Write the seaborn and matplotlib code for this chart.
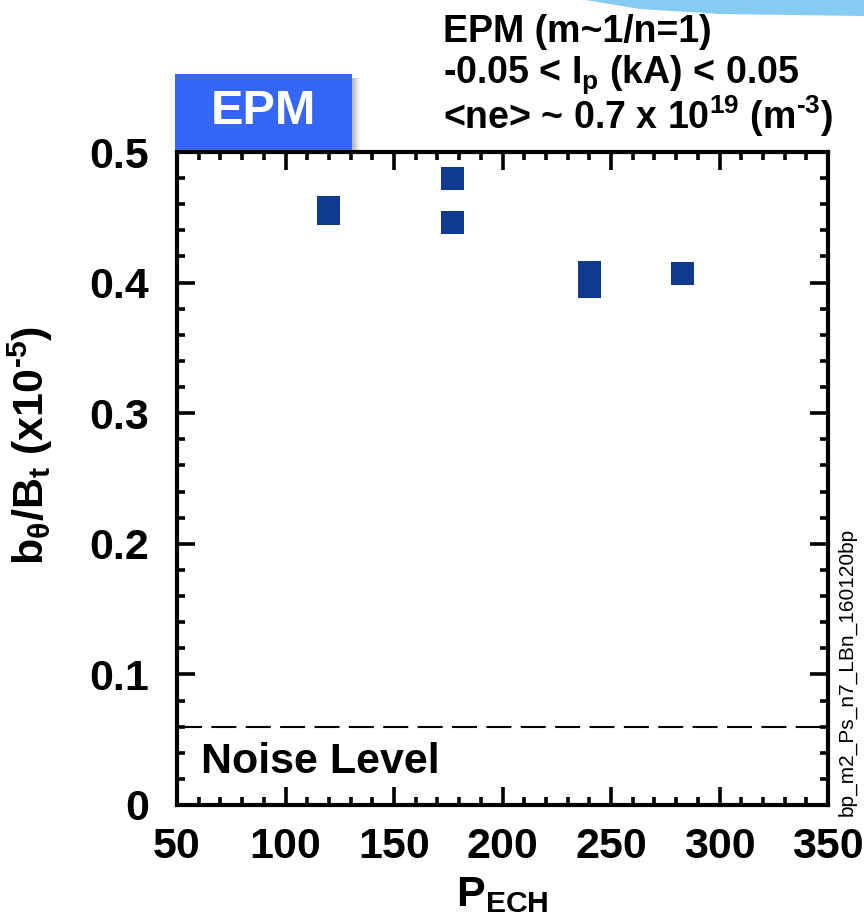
import numpy as np
import pandas as pd
import matplotlib
matplotlib.use("Agg")
import matplotlib.pyplot as plt
import seaborn as sns
from matplotlib.patches import Rectangle, Polygon
from matplotlib.ticker import MultipleLocator

# ---- data ----
p_ech = [120, 120, 177, 177, 240, 240, 283]
b_ratio = [0.4575, 0.453, 0.480, 0.446, 0.408, 0.397, 0.407]
noise_level = 0.06
x_ticks = [50, 100, 150, 200, 250, 300, 350]
y_ticks = [0, 0.1, 0.2, 0.3, 0.4, 0.5]
y_tick_labels = ["0", "0.1", "0.2", "0.3", "0.4", "0.5"]

sns.set_theme(style="white")
plt.rcParams['font.family'] = ['Liberation Sans', 'DejaVu Sans']
plt.rcParams['mathtext.fontset'] = 'custom'
plt.rcParams['mathtext.rm'] = 'Liberation Sans'
plt.rcParams['mathtext.bf'] = 'Liberation Sans:bold'
plt.rcParams['mathtext.it'] = 'Liberation Sans:italic'
for k in ['text.color', 'axes.labelcolor', 'xtick.color', 'ytick.color', 'axes.edgecolor']:
    plt.rcParams[k] = 'black'

W, H = 864, 917
fig = plt.figure(figsize=(W / 100, H / 100), dpi=100)


def fx(px):
    return px / W


def fy(py):
    return 1 - py / H


ax = fig.add_axes([fx(177), fy(805), 651 / W, 653 / H])
df = pd.DataFrame({"P_ECH": p_ech, "b": b_ratio})
sns.scatterplot(data=df, x="P_ECH", y="b", marker="s", s=275, color="#0f3a8f",
                edgecolor="none", linewidth=0, ax=ax, zorder=3, legend=False)
ax.axhline(noise_level, color="black", lw=1.5, dashes=(12, 4.5), zorder=2)
ax.text(61, 0.033, "Noise Level", fontsize=31, fontweight="bold", ha="left", va="center")

ax.set_xlim(50, 350)
ax.set_ylim(0, 0.5)
ax.set_xticks(x_ticks)
ax.set_xticklabels([str(v) for v in x_ticks])
ax.set_yticks(y_ticks)
ax.set_yticklabels(y_tick_labels)
ax.xaxis.set_minor_locator(MultipleLocator(10))
ax.yaxis.set_minor_locator(MultipleLocator(0.02))
ax.tick_params(which="both", direction="in", top=True, right=True, bottom=True, left=True,
               color="black")
ax.tick_params(which="major", length=13, width=2.6, labelsize=31)
ax.tick_params(which="minor", length=6, width=2.6)
ax.tick_params(axis="x", which="major", pad=16)
ax.tick_params(axis="y", which="major", pad=20)
for lab in ax.get_xticklabels() + ax.get_yticklabels():
    lab.set_fontweight("bold")
for sp in ax.spines.values():
    sp.set_visible(True)
    sp.set_color("black")
    sp.set_linewidth(3)

ax.set_xlabel(r"$\mathbf{P_{ECH}}$", fontsize=31, labelpad=6)
ax.set_ylabel(r"$\mathbf{b_{\theta}/B_t}$ (x10$^{\mathbf{‐5}}$)", fontsize=31,
              fontweight="bold")
ax.yaxis.set_label_coords((55 - 177) / 651, (805 - 445) / 653)

# annotation top right
fig.text(fx(443), fy(32), "EPM (m~1/n=1)", fontsize=27, fontweight="bold", ha="left", va="center")
fig.text(fx(443), fy(75), r"-0.05 < I$_{\mathbf{p}}$ (kA) < 0.05", fontsize=27,
         fontweight="bold", ha="left", va="center")
fig.text(fx(443), fy(116), r"<ne> ~ 0.7 x 10$^{\mathbf{19}}$ (m$^{\mathbf{‐3}}$)", fontsize=27,
         fontweight="bold", ha="left", va="center")

# EPM box with shadow
for i, a in enumerate([0.10, 0.15, 0.2, 0.25]):
    off = 8 - 2 * i
    fig.patches.append(Rectangle((fx(175 + off), fy(150)), 177 / W, 72 / H,
                                 transform=fig.transFigure, facecolor="gray",
                                 alpha=a, edgecolor="none", zorder=1))
fig.patches.append(Rectangle((fx(175), fy(150)), 177 / W, 76 / H, transform=fig.transFigure,
                             facecolor="#3566f8", edgecolor="none", zorder=2))
fig.text(fx(263), fy(112), "EPM", fontsize=35, fontweight="bold", color="white",
         ha="center", va="center", zorder=3)

# light blue decoration top right
fig.patches.append(Polygon([(fx(585), fy(0)), (fx(640), fy(9)), (fx(720), fy(14)),
                            (fx(864), fy(16)), (fx(864), fy(0))], closed=True,
                           transform=fig.transFigure, facecolor="#86cbf2", edgecolor="none"))

# side code text
fig.text(fx(847), fy(672), "bp_m2_Ps_n7_LBn_160120bp", rotation=90, fontsize=15,
         ha="center", va="center")

fig.savefig("out.png", dpi=100)
